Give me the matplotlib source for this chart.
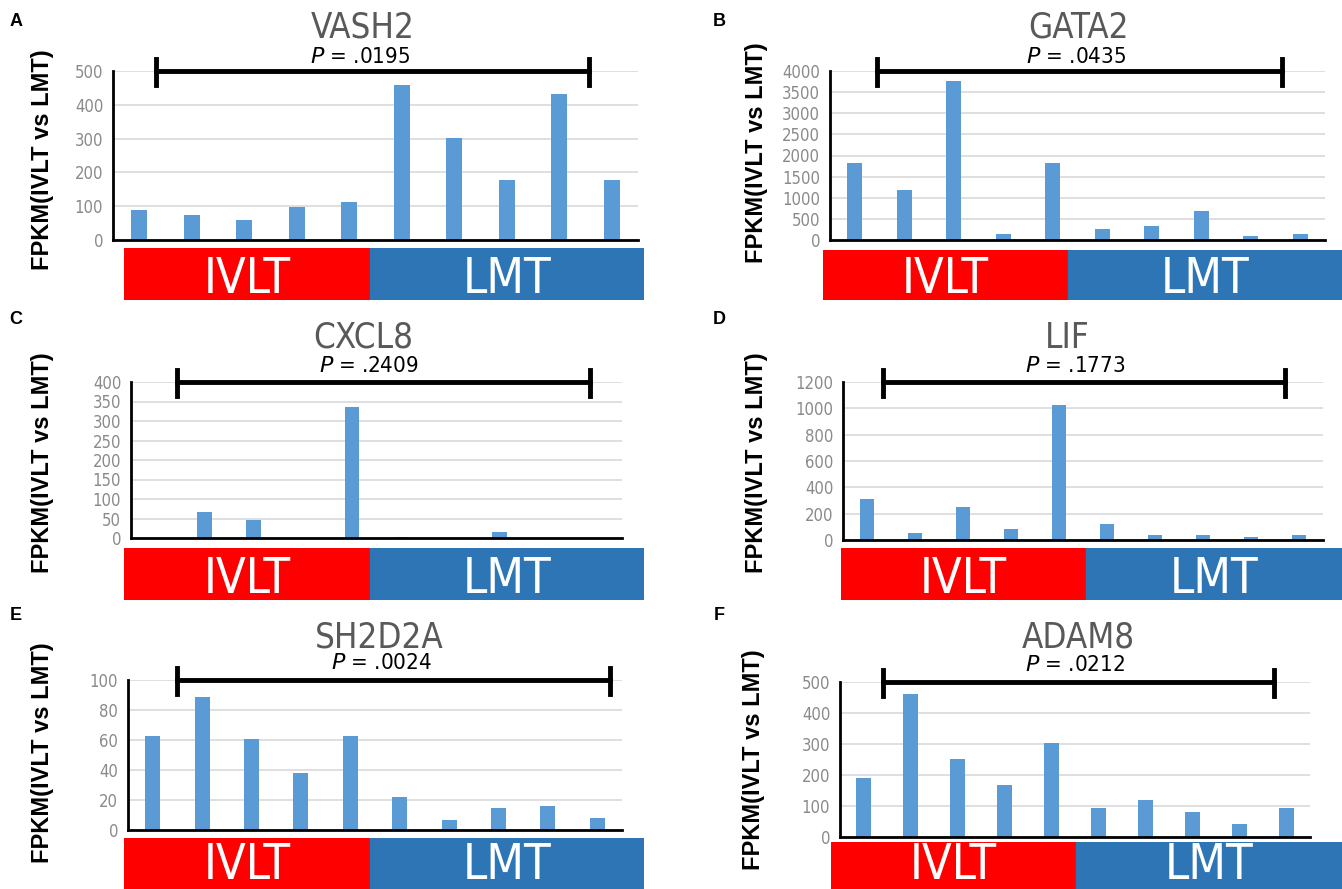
import matplotlib
matplotlib.use("Agg")
import matplotlib.pyplot as plt
from matplotlib import font_manager as fm

W, H = 1342, 889

genes = ["VASH2", "GATA2", "CXCL8", "LIF", "SH2D2A", "ADAM8"]
panel_letters = ["A", "B", "C", "D", "E", "F"]
p_values = [".0195", ".0435", ".2409", ".1773", ".0024", ".0212"]
group_labels = ["IVLT", "LMT"]
y_label = "FPKM(IVLT vs LMT)"

vash2 = [90, 73, 58, 97, 112, 460, 302, 178, 432, 178]
gata2 = [1820, 1180, 3760, 150, 1820, 270, 330, 690, 100, 150]
cxcl8 = [0, 67, 46, 0, 336, 2, 0, 16, 0, 0]
lif = [315, 50, 250, 85, 1025, 125, 40, 40, 20, 40]
sh2d2a = [63, 89, 61, 38, 63, 22, 7, 15, 16, 8]
adam8 = [190, 460, 252, 168, 302, 95, 118, 82, 42, 95]
series = [vash2, gata2, cxcl8, lif, sh2d2a, adam8]

y_max = [500, 4000, 400, 1200, 100, 500]
y_step = [100, 500, 50, 200, 20, 100]

# layout in pixels
axes_px = [  # left, top(ymax), right, bottom(zero)
    (113, 71, 638, 240),
    (830, 71, 1325, 240),
    (131, 382, 622, 538),
    (843, 382, 1323, 540),
    (128, 680, 622, 830),
    (840, 682, 1310, 837),
]
strip_px = [  # left, divide, right, top, bottom
    (124, 370, 644, 248, 300),
    (823, 1068, 1342, 250, 300),
    (124, 370, 644, 548, 600),
    (841, 1086, 1342, 548, 600),
    (124, 370, 644, 838, 889),
    (831, 1076, 1342, 842, 889),
]
strip_text_bottom_px = [303, 303, 603, 603, 889, 889]
bracket_px = [(156, 589), (877, 1282), (177, 590), (883, 1285), (177, 610), (883, 1274)]
title_px = [(363, 28), (1078, 28), (363, 338), (1067, 338), (379, 637), (1078, 637)]
ptext_px = [(360, 57), (1076, 57), (369, 366), (1075, 366), (382, 663), (1075, 665)]
letter_px = [(16, 22), (719, 22), (16, 320), (719, 320), (16, 615), (719, 615)]
ylabel_px = [(43, 160), (757, 153), (43, 463), (757, 463), (43, 753), (753, 760)]

BAR = "#5B9BD5"
RED = "#FF0000"
BLUE = "#2E75B6"

NARROW = fm.FontProperties(family="DejaVu Sans", stretch="condensed")


def narrow(size, weight="normal"):
    p = NARROW.copy()
    p.set_size(size)
    p.set_weight(weight)
    return p


fig = plt.figure(figsize=(W / 100, H / 100), dpi=100)


def fx(x):
    return x / W


def fy(y):
    return 1 - y / H


for i in range(6):
    l, t, r, b = axes_px[i]
    ax = fig.add_axes([fx(l), fy(b), (r - l) / W, (b - t) / H])
    xs = list(range(len(series[i])))
    ax.bar(xs, series[i], width=0.3, color=BAR, zorder=3)
    ax.set_xlim(-0.5, 9.5)
    ax.set_ylim(0, y_max[i])
    ax.set_yticks(list(range(0, y_max[i] + 1, y_step[i])))
    ax.set_xticks([])
    ax.yaxis.grid(True, color="#D9D9D9", linewidth=1.2, zorder=0)
    ax.set_axisbelow(True)
    for s in ["top", "right"]:
        ax.spines[s].set_visible(False)
    for s in ["left", "bottom"]:
        ax.spines[s].set_linewidth(2.0)
        ax.spines[s].set_color("black")
        ax.spines[s].set_zorder(4)
    ax.tick_params(axis="y", length=0, labelcolor="#8A8A8A", pad=7)
    for lab in ax.get_yticklabels():
        lab.set_fontproperties(narrow(12))

    # bracket
    bl, br = bracket_px[i]
    by = t
    fig.add_artist(plt.Line2D([fx(bl), fx(br)], [fy(by), fy(by)], color="black", lw=3.5,
                              transform=fig.transFigure))
    for bx in (bl, br):
        fig.add_artist(plt.Line2D([fx(bx), fx(bx)], [fy(by - 12), fy(by + 14)], color="black",
                                  lw=3.5, transform=fig.transFigure))

    # strip
    sl, sd, sr, st, sb = strip_px[i]
    sax = fig.add_axes([fx(sl), fy(sb), (sr - sl) / W, (sb - st) / H])
    sax.set_xlim(sl, sr)
    sax.set_ylim(0, 1)
    sax.axvspan(sl, sd, color=RED)
    sax.axvspan(sd, sr, color=BLUE)
    sax.axis("off")
    tb = strip_text_bottom_px[i]
    fig.text(fx((sl + sd) / 2), fy(tb), group_labels[0], color="white",
             ha="center", va="bottom", fontproperties=narrow(35))
    fig.text(fx((sd + sr) / 2), fy(tb), group_labels[1], color="white",
             ha="center", va="bottom", fontproperties=narrow(35))

    tx, ty = title_px[i]
    fig.text(fx(tx), fy(ty), genes[i], color="#595959", ha="center", va="center",
             fontproperties=narrow(25))
    px_, py_ = ptext_px[i]
    fig.text(fx(px_), fy(py_), r"$\it{P}$ = " + p_values[i], color="black",
             ha="center", va="center", fontproperties=narrow(16))
    lx, ly = letter_px[i]
    fig.text(fx(lx), fy(ly), panel_letters[i], fontsize=13, fontweight="bold",
             ha="center", va="center", family="Liberation Sans")
    yx, yy = ylabel_px[i]
    fig.text(fx(yx), fy(yy), y_label, fontsize=17, fontweight="bold", rotation=90,
             ha="center", va="center", family="Liberation Sans")

fig.savefig("out.png", dpi=100)
